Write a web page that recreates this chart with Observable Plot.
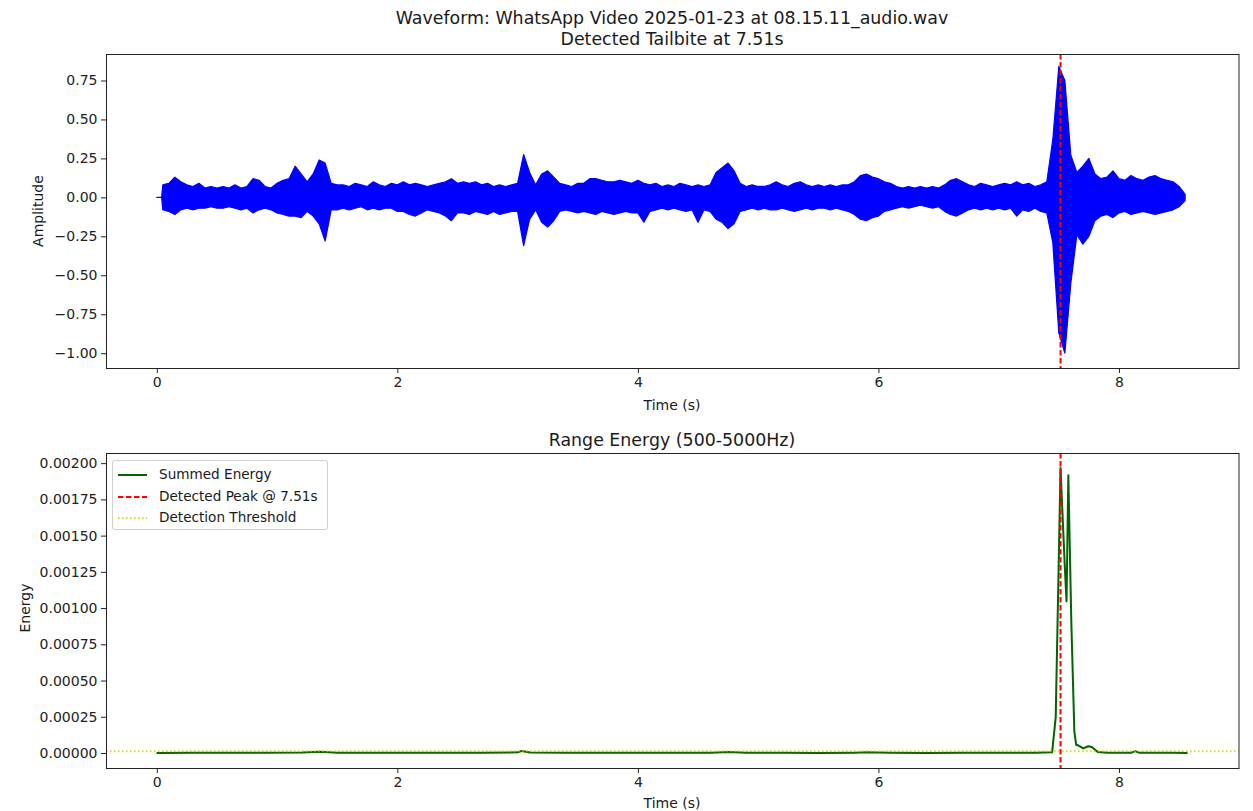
<!DOCTYPE html>
<html><head><meta charset="utf-8">
<script src="https://cdn.jsdelivr.net/npm/d3@7"></script>
<script src="https://cdn.jsdelivr.net/npm/@observablehq/plot@0.6"></script>
<style>
body{margin:0;background:#fff;}
#root{position:relative;width:1253px;height:811px;overflow:hidden;font-family:"DejaVu Sans",sans-serif;color:#1a1a1a;}
#root svg{position:absolute;left:0;}
.t{position:absolute;white-space:nowrap;}
.title{font-size:17.4px;line-height:20px;left:106px;width:1132px;text-align:center;}
.lab{font-size:14px;line-height:18px;}
.rot{transform:translate(-50%,-50%) rotate(-90deg);}
#legend{position:absolute;left:112px;top:460px;width:216px;height:70px;box-sizing:border-box;border:1px solid #d0d0d0;border-radius:3px;background:rgba(255,255,255,0.8);font-size:13.6px;}
#legend .row{position:absolute;left:5px;height:20px;line-height:20px;}
#legend svg{position:static;vertical-align:middle;margin-right:12px;}
</style></head><body><div id="root"></div>
<script>
// ---- Data ----
const waveTime = [0,0.04,
 0.05,0.10,0.15,0.20,0.25,0.30,0.35,0.40,0.45,0.50,
 0.55,0.60,0.65,0.70,0.75,0.80,0.85,0.90,0.95,1.00,
 1.05,1.10,1.15,1.20,1.25,1.30,1.35,1.40,1.45,1.50,
 1.55,1.60,1.65,1.70,1.75,1.80,1.85,1.90,1.95,2.00,
 2.05,2.10,2.15,2.20,2.25,2.30,2.35,2.40,2.45,2.50,
 2.55,2.60,2.65,2.70,2.75,2.80,2.85,2.90,2.95,3.00,
 3.05,3.10,3.15,3.20,3.25,3.30,3.35,3.40,3.45,3.50,
 3.55,3.60,3.65,3.70,3.75,3.80,3.85,3.90,3.95,4.00,
 4.05,4.10,4.15,4.20,4.25,4.30,4.35,4.40,4.45,4.50,
 4.55,4.60,4.65,4.70,4.75,4.80,4.85,4.90,4.95,5.00,
 5.05,5.10,5.15,5.20,5.25,5.30,5.35,5.40,5.45,5.50,
 5.55,5.60,5.65,5.70,5.75,5.80,5.85,5.90,5.95,6.00,
 6.05,6.10,6.15,6.20,6.25,6.30,6.35,6.40,6.45,6.50,
 6.55,6.60,6.65,6.70,6.75,6.80,6.85,6.90,6.95,7.00,
 7.05,7.10,7.15,7.20,7.25,7.30,7.35,7.40,7.45,7.50,
 7.55,7.60,7.65,7.70,7.75,7.80,7.85,7.90,7.95,8.00,
 8.05,8.10,8.15,8.20,8.25,8.30,8.35,8.40,8.45,8.50,8.55];
const waveUpper = [0,0,
 0.08,0.09,0.13,0.10,0.08,0.07,0.09,0.06,0.07,0.06,
 0.07,0.06,0.08,0.06,0.07,0.12,0.11,0.07,0.06,0.09,
 0.11,0.12,0.20,0.15,0.10,0.15,0.24,0.22,0.09,0.08,
 0.08,0.07,0.09,0.08,0.07,0.10,0.08,0.07,0.09,0.08,
 0.10,0.08,0.09,0.08,0.07,0.08,0.09,0.10,0.12,0.09,
 0.10,0.09,0.10,0.08,0.09,0.07,0.08,0.07,0.08,0.09,
 0.275,0.16,0.08,0.15,0.17,0.13,0.09,0.08,0.07,0.09,
 0.09,0.12,0.12,0.11,0.10,0.10,0.11,0.10,0.09,0.11,
 0.09,0.08,0.09,0.07,0.08,0.07,0.09,0.08,0.07,0.08,
 0.07,0.08,0.16,0.19,0.22,0.17,0.09,0.07,0.08,0.07,
 0.07,0.08,0.10,0.08,0.07,0.09,0.10,0.08,0.07,0.08,
 0.07,0.08,0.07,0.08,0.08,0.10,0.14,0.15,0.13,0.12,
 0.10,0.09,0.07,0.06,0.07,0.06,0.07,0.06,0.07,0.06,
 0.08,0.11,0.12,0.10,0.08,0.07,0.09,0.08,0.07,0.08,
 0.09,0.08,0.10,0.08,0.09,0.07,0.08,0.10,0.37,0.84,
 0.75,0.27,0.16,0.20,0.25,0.15,0.12,0.13,0.17,0.12,
 0.11,0.14,0.12,0.11,0.13,0.14,0.12,0.11,0.10,0.07,0.02];
const waveLower = [0,0,
 -0.08,-0.09,-0.11,-0.08,-0.07,-0.08,-0.07,-0.07,-0.06,-0.07,
 -0.07,-0.06,-0.07,-0.08,-0.07,-0.10,-0.08,-0.07,-0.08,-0.10,
 -0.11,-0.12,-0.12,-0.13,-0.09,-0.12,-0.17,-0.28,-0.08,-0.08,
 -0.07,-0.08,-0.07,-0.06,-0.08,-0.07,-0.08,-0.07,-0.07,-0.09,
 -0.09,-0.11,-0.12,-0.10,-0.08,-0.09,-0.10,-0.12,-0.15,-0.10,
 -0.10,-0.11,-0.09,-0.10,-0.11,-0.09,-0.11,-0.10,-0.09,-0.09,
 -0.31,-0.14,-0.08,-0.16,-0.19,-0.15,-0.09,-0.08,-0.09,-0.10,
 -0.09,-0.10,-0.11,-0.09,-0.10,-0.11,-0.10,-0.09,-0.10,-0.10,
 -0.16,-0.09,-0.08,-0.07,-0.08,-0.07,-0.08,-0.09,-0.08,-0.16,
 -0.08,-0.09,-0.14,-0.16,-0.20,-0.17,-0.09,-0.08,-0.07,-0.08,
 -0.07,-0.08,-0.08,-0.07,-0.08,-0.09,-0.08,-0.07,-0.08,-0.07,
 -0.07,-0.08,-0.07,-0.08,-0.09,-0.11,-0.14,-0.15,-0.13,-0.12,
 -0.09,-0.08,-0.07,-0.06,-0.07,-0.06,-0.05,-0.06,-0.07,-0.06,
 -0.09,-0.11,-0.12,-0.10,-0.08,-0.07,-0.08,-0.07,-0.08,-0.07,
 -0.08,-0.07,-0.12,-0.08,-0.09,-0.07,-0.09,-0.10,-0.29,-0.87,
 -1.00,-0.55,-0.24,-0.30,-0.25,-0.15,-0.12,-0.11,-0.13,-0.10,
 -0.09,-0.11,-0.10,-0.09,-0.10,-0.11,-0.10,-0.09,-0.08,-0.06,-0.02];

const energyTime = [0,0.3,0.6,0.9,1.2,1.35,1.5,1.8,2.1,2.4,2.7,3.0,3.03,3.1,3.4,3.7,4.0,4.3,4.6,4.75,
 4.9,5.2,5.5,5.8,5.9,6.1,6.4,6.7,7.0,7.3,7.44,7.47,7.49,7.51,7.545,7.56,7.575,7.60,7.625,7.64,
 7.66,7.70,7.74,7.77,7.82,7.9,8.0,8.1,8.13,8.16,8.3,8.45,8.56];
const energyValue = [0.000004,0.000005,0.000006,0.000005,0.000007,0.000012,0.000006,0.000005,0.000005,0.000006,
 0.000005,0.000008,0.000018,0.000007,0.000006,0.000005,0.000006,0.000005,0.000006,0.00001,
 0.000005,0.000005,0.000004,0.000006,0.000008,0.000005,0.000004,0.000006,0.000005,0.000005,
 0.000008,0.00025,0.0011,0.00197,0.0013,0.00105,0.00192,0.0009,0.00015,0.00006,
 0.000055,0.000035,0.00005,0.000045,0.00001,0.000006,0.000005,0.000006,0.000016,0.000006,
 0.000005,0.000005,0.000004];

const peakTime = 7.51;
const threshold = 0.000015;
const timeTicks = [0,2,4,6,8];
const ampTicks = [-1.0,-0.75,-0.5,-0.25,0,0.25,0.5,0.75];
const energyTicks = [0,0.00025,0.0005,0.00075,0.001,0.00125,0.0015,0.00175,0.002];

const titleTop1 = "Waveform: WhatsApp Video 2025-01-23 at 08.15.11_audio.wav";
const titleTop2 = "Detected Tailbite at 7.51s";
const titleBottom = "Range Energy (500-5000Hz)";
const legendLabels = ["Summed Energy","Detected Peak @ 7.51s","Detection Threshold"];

// ---- Build ----
const root = document.getElementById("root");
const xDomain = [-0.4224, 8.994];
const waveData = waveTime.map((t,i)=>({t, hi: waveUpper[i], lo: waveLower[i]}));
const energyData = energyTime.map((t,i)=>({t, v: energyValue[i]}));
const style = {fontFamily:"DejaVu Sans", fontSize:"14px", color:"#222", background:"transparent", overflow:"visible"};

const topPlot = Plot.plot({
  width:1253, height:420, marginTop:54, marginBottom:52, marginLeft:106, marginRight:14.5,
  style,
  x:{domain:xDomain}, y:{domain:[-1.095,0.92]},
  marks:[
    Plot.areaY(waveData,{x:"t", y1:"lo", y2:"hi", fill:"#0000ff", stroke:"#0000ff", strokeWidth:1.2}),
    Plot.ruleX([peakTime],{stroke:"#ff0000", strokeWidth:2, strokeDasharray:"5.5,2.5"}),
    Plot.frame({stroke:"#222", strokeWidth:1}),
    Plot.axisX({ticks:timeTicks, tickSize:5, tickPadding:4, tickFormat:d=>String(d), label:null, fontSize:14}),
    Plot.axisY({ticks:ampTicks, tickSize:5, tickPadding:4, tickFormat:d3.format(".2f"), label:null, fontSize:14})
  ]
});
topPlot.style.top = "0px";
root.appendChild(topPlot);

const botPlot = Plot.plot({
  width:1253, height:391, marginTop:33, marginBottom:43, marginLeft:106, marginRight:14.5,
  style,
  x:{domain:xDomain}, y:{domain:[-0.0001034,0.00207]},
  marks:[
    Plot.line(energyData,{x:"t", y:"v", stroke:"#006400", strokeWidth:2}),
    Plot.ruleX([peakTime],{stroke:"#ff0000", strokeWidth:2, strokeDasharray:"5.5,2.5"}),
    Plot.ruleY([threshold],{stroke:"#c4c400", strokeOpacity:0.75, strokeWidth:2, strokeDasharray:"1.5,2.5"}),
    Plot.frame({stroke:"#222", strokeWidth:1}),
    Plot.axisX({ticks:timeTicks, tickSize:5, tickPadding:4, tickFormat:d=>String(d), label:null, fontSize:14}),
    Plot.axisY({ticks:energyTicks, tickSize:5, tickPadding:4, tickFormat:d3.format(".5f"), label:null, fontSize:14})
  ]
});
botPlot.style.top = "420px";
root.appendChild(botPlot);

function addText(txt, cls, css){
  const d = document.createElement("div");
  d.className = "t " + cls;
  d.textContent = txt;
  Object.assign(d.style, css);
  root.appendChild(d);
  return d;
}
addText(titleTop1, "title", {top:"8px"});
addText(titleTop2, "title", {top:"29px"});
addText(titleBottom, "title", {top:"430px"});
addText("Time (s)", "lab", {left:"106px", width:"1132px", textAlign:"center", top:"396px"});
addText("Time (s)", "lab", {left:"106px", width:"1132px", textAlign:"center", top:"794px"});
addText("Amplitude", "lab rot", {left:"38px", top:"211px"});
addText("Energy", "lab rot", {left:"25px", top:"608px"});

// legend
const leg = document.createElement("div");
leg.id = "legend";
const swatches = [
  '<svg width="29" height="10"><line x1="0" y1="5" x2="29" y2="5" stroke="#006400" stroke-width="2"/></svg>',
  '<svg width="29" height="10"><line x1="0" y1="5" x2="29" y2="5" stroke="#ff0000" stroke-width="2" stroke-dasharray="5.5,2.5"/></svg>',
  '<svg width="29" height="10"><line x1="0" y1="5" x2="29" y2="5" stroke="#c4c400" stroke-opacity="0.75" stroke-width="2" stroke-dasharray="1.5,2.5"/></svg>'
];
legendLabels.forEach((lab,i)=>{
  const r = document.createElement("div");
  r.className = "row";
  r.style.top = (3 + i*21.5) + "px";
  r.innerHTML = swatches[i];
  const s = document.createElement("span");
  s.textContent = lab;
  r.appendChild(s);
  leg.appendChild(r);
});
root.appendChild(leg);
</script></body></html>
